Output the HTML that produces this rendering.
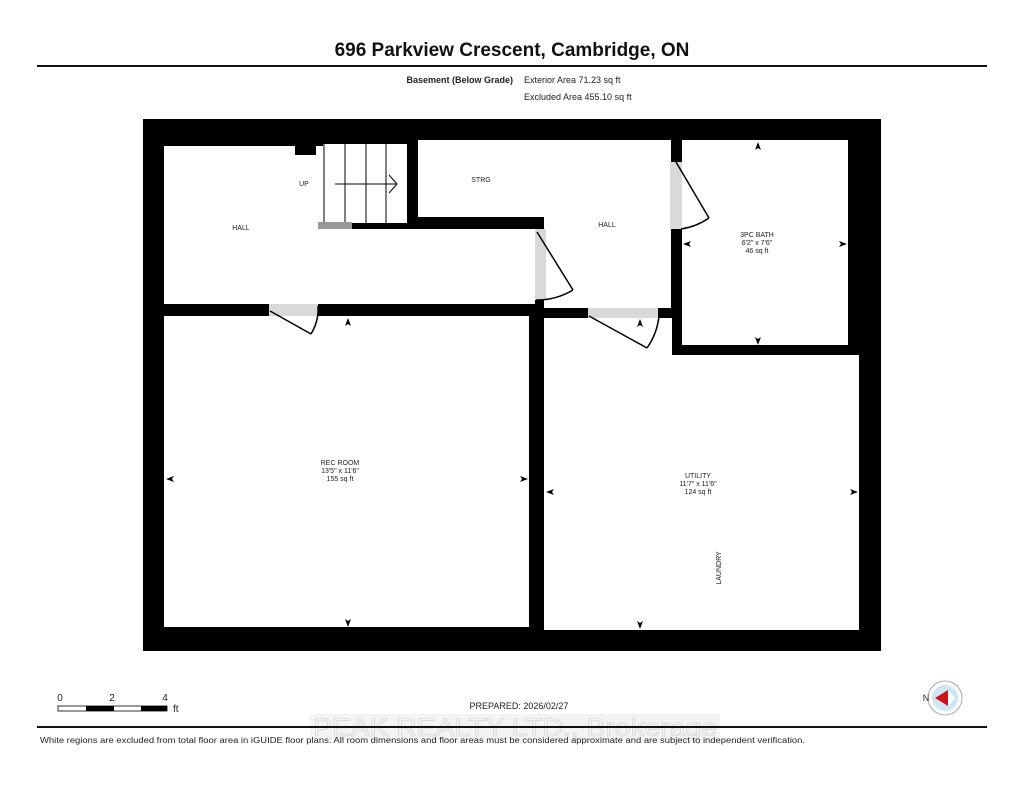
<!DOCTYPE html>
<html><head><meta charset="utf-8"><style>
html,body{margin:0;padding:0;background:#fff;}
svg{display:block;}
text{font-family:"Liberation Sans",Arial,sans-serif;}
</style></head><body>
<svg width="1024" height="791" viewBox="0 0 1024 791" xmlns="http://www.w3.org/2000/svg">
<rect width="1024" height="791" fill="#fff"/>
<text x="512" y="56" text-anchor="middle" font-size="19" font-weight="bold" fill="#111">696 Parkview Crescent, Cambridge, ON</text>
<rect x="37" y="65" width="950" height="2" fill="#111"/>
<text x="513" y="83" text-anchor="end" font-size="9" font-weight="bold" fill="#222">Basement (Below Grade)</text>
<text x="524" y="83" font-size="9" fill="#222">Exterior Area 71.23 sq ft</text>
<text x="524" y="100" font-size="9" fill="#222">Excluded Area 455.10 sq ft</text>

<rect x="143" y="119" width="738" height="532" fill="#000"/>
<g fill="#fff">
<rect x="164" y="146" width="159" height="158"/>
<rect x="323" y="144" width="84" height="79"/>
<rect x="164" y="229" width="371" height="75"/>
<rect x="418" y="140" width="251" height="77"/>
<rect x="544" y="140" width="127" height="168"/>
<rect x="682" y="140" width="166" height="205"/>
<rect x="164" y="316" width="365" height="311"/>
<rect x="544" y="318" width="128" height="312"/>
<rect x="682" y="355" width="177" height="275"/>
<rect x="672" y="355" width="10" height="275"/>
</g>
<rect x="295" y="146" width="21" height="9" fill="#000"/>
<g stroke="#000" stroke-width="1" fill="none">
<line x1="324" y1="144" x2="324" y2="223"/>
<line x1="345" y1="144" x2="345" y2="223"/>
<line x1="366" y1="144" x2="366" y2="223"/>
<line x1="386" y1="144" x2="386" y2="223"/>
<line x1="335" y1="184" x2="397" y2="184"/>
<polyline points="389,175 397,184 389,193"/>
</g>
<rect x="318" y="222" width="34" height="7" fill="#999"/>
<g fill="#d9d9d9">
<rect x="269" y="304" width="49" height="12"/>
<rect x="535" y="229" width="11" height="71"/>
<rect x="588" y="308" width="70" height="10"/>
<rect x="670" y="162" width="12" height="67"/>
</g>
<g stroke="#000" stroke-width="1.5" fill="none">
<line x1="270" y1="311" x2="311" y2="334"/>
<path d="M311,334 A48,48 0 0 0 318,306"/>
<line x1="537" y1="232" x2="573" y2="290"/>
<path d="M573,290 A70,70 0 0 1 536,300"/>
<line x1="589" y1="316" x2="647" y2="348"/>
<path d="M647,348 A68,68 0 0 0 659,316"/>
<line x1="676" y1="162" x2="709" y2="218"/>
<path d="M709,218 A66,66 0 0 1 681,229"/>
</g>
<g font-size="7" fill="#222" text-anchor="middle">
<text x="241" y="230">HALL</text>
<text x="304" y="186">UP</text>
<text x="481" y="182">STRG</text>
<text x="607" y="227">HALL</text>
<text x="757" y="237">3PC BATH</text>
<text x="757" y="245">6'2" x 7'6"</text>
<text x="757" y="253">46 sq ft</text>
<text x="340" y="465">REC ROOM</text>
<text x="340" y="473">13'5" x 11'6"</text>
<text x="340" y="481">155 sq ft</text>
<text x="698" y="478">UTILITY</text>
<text x="698" y="486">11'7" x 11'6"</text>
<text x="698" y="494">124 sq ft</text>
<text transform="translate(721,568) rotate(-90)">LAUNDRY</text>
</g>
<g fill="#000">
<path d="M348,318 l-3,8 l3,-2 l3,2z"/>
<path d="M348,627 l-3,-8 l3,2 l3,-2z"/>
<path d="M166,479 l8,-3 l-2,3 l2,3z"/>
<path d="M528,479 l-8,-3 l2,3 l-2,3z"/>
<path d="M546,492 l8,-3 l-2,3 l2,3z"/>
<path d="M858,492 l-8,-3 l2,3 l-2,3z"/>
<path d="M640,629 l-3,-8 l3,2 l3,-2z"/>
<path d="M758,142 l-3,8 l3,-2 l3,2z"/>
<path d="M758,345 l-3,-8 l3,2 l3,-2z"/>
<path d="M683,244 l8,-3 l-2,3 l2,3z"/>
<path d="M847,244 l-8,-3 l2,3 l-2,3z"/>
<path d="M640,319 l-3,8 l3,-2 l3,2z"/>
</g>

<g font-size="10" fill="#222">
<text x="60" y="701" text-anchor="middle">0</text>
<text x="112" y="701" text-anchor="middle">2</text>
<text x="165" y="701" text-anchor="middle">4</text>
<text x="173" y="712">ft</text>
</g>
<rect x="58" y="706" width="109" height="5" fill="#fff" stroke="#000" stroke-width="0.8"/>
<rect x="86" y="706" width="28" height="5" fill="#000"/>
<rect x="141" y="706" width="26" height="5" fill="#000"/>
<text x="519" y="709" text-anchor="middle" font-size="9" fill="#222">PREPARED: 2026/02/27</text>
<circle cx="945" cy="698" r="17" fill="#fff" stroke="#aaa" stroke-width="1"/>
<circle cx="945" cy="698" r="13" fill="#cde8f5"/>
<path d="M935,698 L948,690 L948,706Z" fill="#d0121b"/>
<path d="M948,690 L955,698 L948,706Z" fill="#fff"/>
<text x="926" y="701" font-size="9" fill="#222" text-anchor="middle">N</text>
<rect x="310" y="714" width="410" height="26" fill="#e8e8e8" opacity="0.5"/>
<text x="313" y="736" font-size="25" fill="#f4f4f4" stroke="#d0d0d0" stroke-width="0.6" textLength="404" lengthAdjust="spacingAndGlyphs">PEAK REALTY LTD., Brokerage</text>
<rect x="37" y="726" width="950" height="2" fill="#111"/>
<text x="40" y="743" font-size="8" fill="#222" textLength="765" lengthAdjust="spacingAndGlyphs">White regions are excluded from total floor area in iGUIDE floor plans. All room dimensions and floor areas must be considered approximate and are subject to independent verification.</text>
</svg>
</body></html>
